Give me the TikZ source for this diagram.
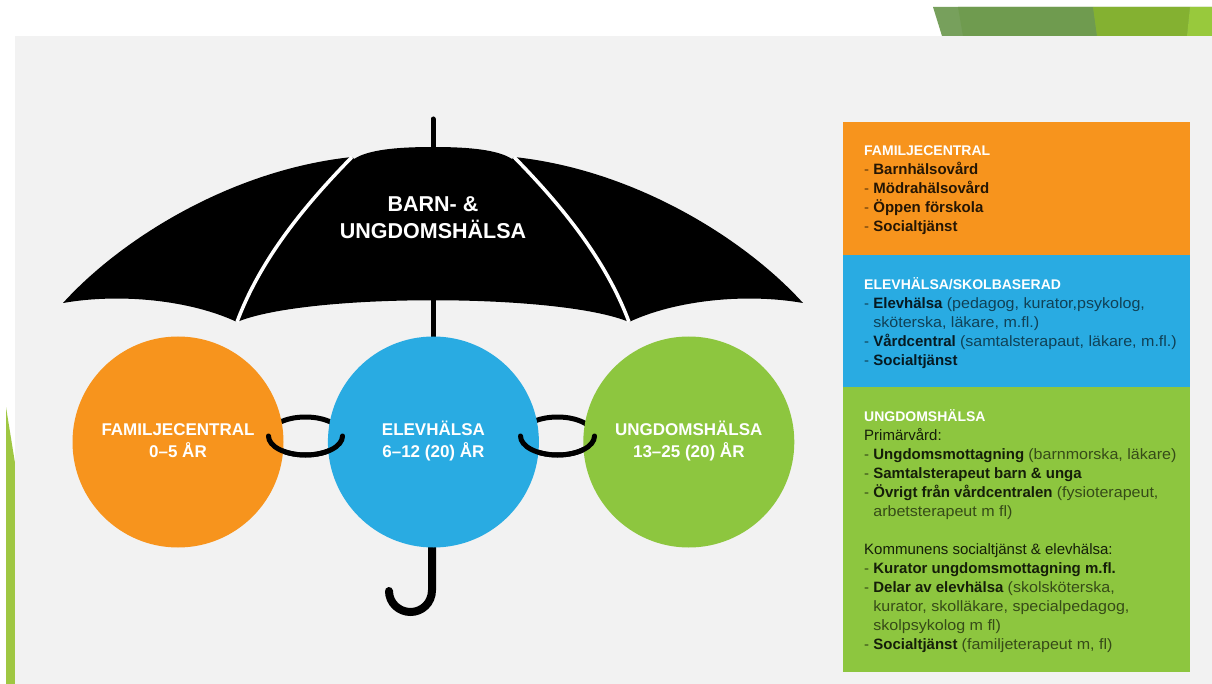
\documentclass[tikz,border=0pt]{standalone}
\usepackage{fontspec}
\setmainfont{Liberation Sans}
\newfontfamily\asidefont{Liberation Sans}[FakeStretch=1.07]
\usetikzlibrary{positioning}

\definecolor{famorange}{HTML}{F7941D}
\definecolor{elevblue}{HTML}{29ABE2}
\definecolor{ungdgreen}{HTML}{8DC63F}
\definecolor{panelgray}{HTML}{F2F2F2}
\definecolor{leafedge}{HTML}{77A05C}
\definecolor{leafdark}{HTML}{6F9B4F}
\definecolor{leafmid}{HTML}{84B131}
\definecolor{leaflight}{HTML}{98C93C}
\definecolor{stripgreen}{HTML}{9FC742}

\newcommand{\boxtitle}[1]{{\fontsize{14}{19}\selectfont\bfseries\color{white}#1}}
\newcommand{\entry}[1]{{\color{asidecol}-}~\textbf{#1}}
\newcommand{\aside}[1]{{\asidefont\color{asidecol}#1}}
\newcommand{\cont}{\hphantom{-~}}

\tikzset{ListStyle/.style={anchor=north west,inner sep=0pt,align=left,
    text=black!85!#1,
    font={\fontsize{15}{19}\selectfont\colorlet{asidecol}{black!62!#1}}}}

\begin{document}
\begin{tikzpicture}[x=1pt,y=-1pt]
  \tikzstyle{BoxStyle}=[anchor=north west,minimum width=347pt,inner sep=0pt,outer sep=0pt]
  \tikzstyle{AgeStyle}=[circle,minimum size=211pt,inner sep=0pt,text=white,align=center,
    font=\fontsize{17}{22}\selectfont\bfseries]
  \tikzstyle{RibStyle}=[draw=white,line width=3.5pt]
  \tikzstyle{ShaftStyle}=[draw=black,line width=5pt,line cap=round]
  \useasboundingbox (0,0) rectangle (1212,684);
  \fill[white] (0,0) rectangle (1212,684);
  % corner leaves
  \fill[leafedge] (933,7) -- (1212,7) -- (1212,36) -- (942,36) -- cycle;
  \fill[leafdark] (958,7) -- (1093,7) -- (1097,36) -- (963,36) -- cycle;
  \fill[leafmid] (1093,7) -- (1190,7) -- (1187,36) -- (1097,36) -- cycle;
  \fill[leaflight] (1190,7) -- (1212,7) -- (1212,36) -- (1187,36) -- cycle;
  \fill[stripgreen] (6,407) -- (15,463) -- (15,684) -- (6,684) -- cycle;
  \fill[panelgray] (15,36) rectangle (1212,684);

  % right hand boxes
  \node[BoxStyle,fill=famorange,minimum height=133pt] (famBox) at (843,122) {};
  \node[BoxStyle,fill=elevblue,minimum height=132pt,below=0pt of famBox] (elevBox) {};
  \node[BoxStyle,fill=ungdgreen,minimum height=285pt,below=0pt of elevBox] (ungdBox) {};

  \node[ListStyle=famorange,below right=20.5pt and 21pt of famBox.north west] (famList)
    {\strut\boxtitle{FAMILJECENTRAL}\\
     \entry{Barnhälsovård}\\
     \entry{Mödrahälsovård}\\
     \entry{Öppen förskola}\\
     \entry{Socialtjänst}};
  \node[ListStyle=elevblue,below right=20.5pt and 21pt of elevBox.north west] (elevList)
    {\strut\boxtitle{ELEVHÄLSA/SKOLBASERAD}\\
     \entry{Elevhälsa} \aside{(pedagog, kurator,psykolog,}\\
     \cont\aside{sköterska, läkare, m.fl.)}\\
     \entry{Vårdcentral} \aside{(samtalsterapaut, läkare, m.fl.)}\\
     \entry{Socialtjänst}};
  \node[ListStyle=ungdgreen,below right=20.5pt and 21pt of ungdBox.north west] (ungdList)
    {\strut\boxtitle{UNGDOMSHÄLSA}\\
     Primärvård:\\
     \entry{Ungdomsmottagning} \aside{(barnmorska, läkare)}\\
     \entry{Samtalsterapeut barn \& unga}\\
     \entry{Övrigt från vårdcentralen} \aside{(fysioterapeut,}\\
     \cont\aside{arbetsterapeut m fl)}\\
     \\
     Kommunens socialtjänst \& elevhälsa:\\
     \entry{Kurator ungdomsmottagning m.fl.}\\
     \entry{Delar av elevhälsa} \aside{(skolsköterska,}\\
     \cont\aside{kurator, skolläkare, specialpedagog,}\\
     \cont\aside{skolpsykolog m fl)}\\
     \entry{Socialtjänst} \aside{(familjeterapeut m, fl)}};

  % umbrella
  \draw[ShaftStyle] (433,119) -- (433,152);
  \fill[black] (63,303) .. controls (120,240) and (230,170) .. (352,157)
    -- (354,159) .. controls (368,150) and (395,147) .. (433,147)
    .. controls (471,147) and (498,150) .. (512,159)
    -- (514,157) .. controls (636,170) and (746,240) .. (803,303)
    .. controls (746,293) and (676,300) .. (629,322)
    .. controls (560,293) and (306,293) .. (237,322)
    .. controls (190,300) and (120,293) .. (63,303) -- cycle;
  \draw[RibStyle] (352,157) .. controls (310,200) and (262,255) .. (237,322);
  \draw[RibStyle] (514,157) .. controls (556,200) and (604,255) .. (629,322);
  \node[text=white,align=center,font=\fontsize{21.5}{24}\selectfont\bfseries] (umbLabel)
    at (433,220) {\strut BARN- \&\\UNGDOMSHÄLSA\strut};
  \draw[ShaftStyle,line cap=butt] (433,300) -- (433,450);
  \draw[line width=8pt,line cap=round] (432,520) -- (432,590)
    .. controls (432,603) and (422,612) .. (410.5,612)
    .. controls (399,612) and (389,603) .. (389,591);

  % links, back half
  \coordinate (linkA) at (305.5,436);
  \coordinate (linkB) at (557.5,436);
  \draw[line width=5pt] (linkA) ellipse [x radius=37,y radius=19];
  \draw[line width=5pt] (linkB) ellipse [x radius=37,y radius=19];

  % age groups
  \node[AgeStyle,fill=famorange] (famCircle) at (178,442) {\strut FAMILJECENTRAL\\0–5 ÅR\strut};
  \node[AgeStyle,fill=elevblue,right=44pt of famCircle] (elevCircle) {\strut ELEVHÄLSA\\6–12 (20) ÅR\strut};
  \node[AgeStyle,fill=ungdgreen,right=44pt of elevCircle] (ungdCircle) {\strut UNGDOMSHÄLSA\\13–25 (20) ÅR\strut};

  % links, front half
  \draw[line width=5pt,line cap=round] (268.5,436) .. controls (268.5,446.5) and (285,455) .. (305.5,455)
    .. controls (326,455) and (342.5,446.5) .. (342.5,436);
  \draw[line width=5pt,line cap=round] (520.5,436) .. controls (520.5,446.5) and (537,455) .. (557.5,455)
    .. controls (578,455) and (594.5,446.5) .. (594.5,436);
\end{tikzpicture}
\end{document}
